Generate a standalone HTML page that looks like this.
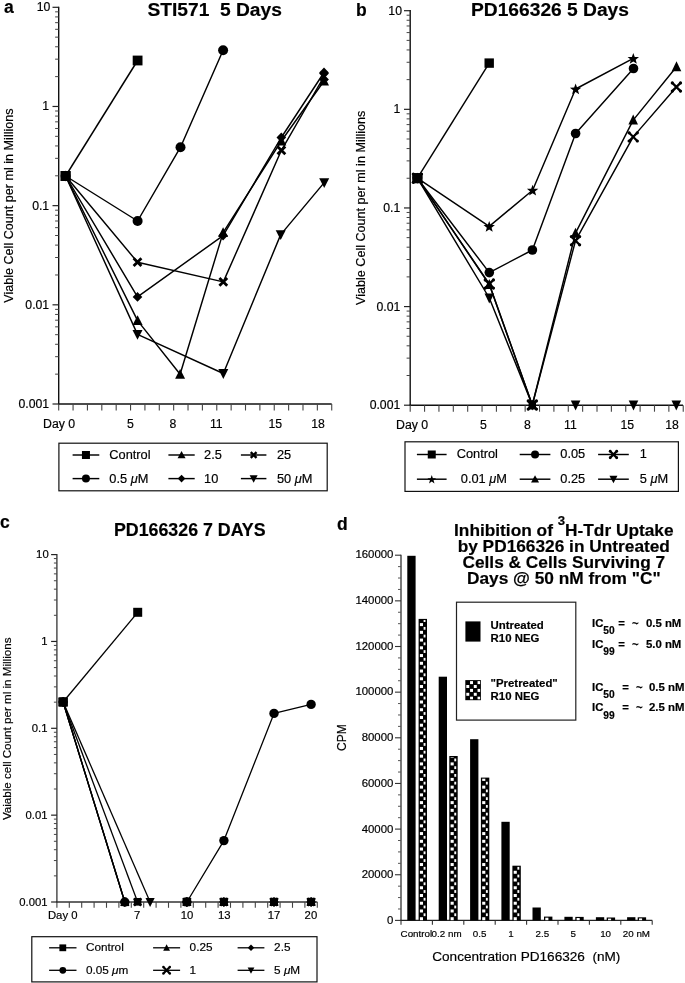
<!DOCTYPE html>
<html><head><meta charset="utf-8"><style>
html,body{margin:0;padding:0;background:#fff;overflow:hidden;}
svg{display:block;will-change:transform;}
text{font-family:"Liberation Sans",sans-serif;fill:#000;stroke:#000;stroke-width:0.18px;}
</style></head><body>
<svg width="685" height="983" viewBox="0 0 685 983" font-family="Liberation Sans, sans-serif">
<rect width="685" height="983" fill="#fff"/>
<line x1="58.70" y1="6.70" x2="58.70" y2="404.70" stroke="#111" stroke-width="1.4"/><line x1="58.00" y1="404.00" x2="331.70" y2="404.00" stroke="#111" stroke-width="1.4"/><line x1="52.50" y1="7.30" x2="58.70" y2="7.30" stroke="#222" stroke-width="1.2"/><text x="50.40" y="11.23" font-size="12.25" text-anchor="end" >10</text><line x1="55.10" y1="76.62" x2="58.70" y2="76.62" stroke="#444" stroke-width="1"/><line x1="55.10" y1="59.16" x2="58.70" y2="59.16" stroke="#444" stroke-width="1"/><line x1="55.10" y1="46.77" x2="58.70" y2="46.77" stroke="#444" stroke-width="1"/><line x1="55.10" y1="37.15" x2="58.70" y2="37.15" stroke="#444" stroke-width="1"/><line x1="55.10" y1="29.30" x2="58.70" y2="29.30" stroke="#444" stroke-width="1"/><line x1="55.10" y1="22.66" x2="58.70" y2="22.66" stroke="#444" stroke-width="1"/><line x1="55.10" y1="16.91" x2="58.70" y2="16.91" stroke="#444" stroke-width="1"/><line x1="55.10" y1="11.84" x2="58.70" y2="11.84" stroke="#444" stroke-width="1"/><line x1="52.50" y1="106.47" x2="58.70" y2="106.47" stroke="#222" stroke-width="1.2"/><text x="49.20" y="110.40" font-size="12.25" text-anchor="end" >1</text><line x1="55.10" y1="175.80" x2="58.70" y2="175.80" stroke="#444" stroke-width="1"/><line x1="55.10" y1="158.33" x2="58.70" y2="158.33" stroke="#444" stroke-width="1"/><line x1="55.10" y1="145.94" x2="58.70" y2="145.94" stroke="#444" stroke-width="1"/><line x1="55.10" y1="136.33" x2="58.70" y2="136.33" stroke="#444" stroke-width="1"/><line x1="55.10" y1="128.48" x2="58.70" y2="128.48" stroke="#444" stroke-width="1"/><line x1="55.10" y1="121.84" x2="58.70" y2="121.84" stroke="#444" stroke-width="1"/><line x1="55.10" y1="116.09" x2="58.70" y2="116.09" stroke="#444" stroke-width="1"/><line x1="55.10" y1="111.01" x2="58.70" y2="111.01" stroke="#444" stroke-width="1"/><line x1="52.50" y1="205.65" x2="58.70" y2="205.65" stroke="#222" stroke-width="1.2"/><text x="49.20" y="209.58" font-size="12.25" text-anchor="end" >0.1</text><line x1="55.10" y1="274.97" x2="58.70" y2="274.97" stroke="#444" stroke-width="1"/><line x1="55.10" y1="257.51" x2="58.70" y2="257.51" stroke="#444" stroke-width="1"/><line x1="55.10" y1="245.12" x2="58.70" y2="245.12" stroke="#444" stroke-width="1"/><line x1="55.10" y1="235.50" x2="58.70" y2="235.50" stroke="#444" stroke-width="1"/><line x1="55.10" y1="227.65" x2="58.70" y2="227.65" stroke="#444" stroke-width="1"/><line x1="55.10" y1="221.01" x2="58.70" y2="221.01" stroke="#444" stroke-width="1"/><line x1="55.10" y1="215.26" x2="58.70" y2="215.26" stroke="#444" stroke-width="1"/><line x1="55.10" y1="210.19" x2="58.70" y2="210.19" stroke="#444" stroke-width="1"/><line x1="52.50" y1="304.82" x2="58.70" y2="304.82" stroke="#222" stroke-width="1.2"/><text x="49.20" y="308.75" font-size="12.25" text-anchor="end" >0.01</text><line x1="55.10" y1="374.15" x2="58.70" y2="374.15" stroke="#444" stroke-width="1"/><line x1="55.10" y1="356.68" x2="58.70" y2="356.68" stroke="#444" stroke-width="1"/><line x1="55.10" y1="344.29" x2="58.70" y2="344.29" stroke="#444" stroke-width="1"/><line x1="55.10" y1="334.68" x2="58.70" y2="334.68" stroke="#444" stroke-width="1"/><line x1="55.10" y1="326.83" x2="58.70" y2="326.83" stroke="#444" stroke-width="1"/><line x1="55.10" y1="320.19" x2="58.70" y2="320.19" stroke="#444" stroke-width="1"/><line x1="55.10" y1="314.44" x2="58.70" y2="314.44" stroke="#444" stroke-width="1"/><line x1="55.10" y1="309.36" x2="58.70" y2="309.36" stroke="#444" stroke-width="1"/><line x1="52.50" y1="404.00" x2="58.70" y2="404.00" stroke="#222" stroke-width="1.2"/><text x="49.20" y="407.93" font-size="12.25" text-anchor="end" >0.001</text><line x1="58.70" y1="404.00" x2="58.70" y2="410.50" stroke="#444" stroke-width="1.1"/><line x1="73.07" y1="404.00" x2="73.07" y2="410.50" stroke="#444" stroke-width="1.1"/><line x1="87.44" y1="404.00" x2="87.44" y2="410.50" stroke="#444" stroke-width="1.1"/><line x1="101.81" y1="404.00" x2="101.81" y2="410.50" stroke="#444" stroke-width="1.1"/><line x1="116.18" y1="404.00" x2="116.18" y2="410.50" stroke="#444" stroke-width="1.1"/><line x1="130.55" y1="404.00" x2="130.55" y2="410.50" stroke="#444" stroke-width="1.1"/><line x1="144.92" y1="404.00" x2="144.92" y2="410.50" stroke="#444" stroke-width="1.1"/><line x1="159.29" y1="404.00" x2="159.29" y2="410.50" stroke="#444" stroke-width="1.1"/><line x1="173.66" y1="404.00" x2="173.66" y2="410.50" stroke="#444" stroke-width="1.1"/><line x1="188.03" y1="404.00" x2="188.03" y2="410.50" stroke="#444" stroke-width="1.1"/><line x1="202.40" y1="404.00" x2="202.40" y2="410.50" stroke="#444" stroke-width="1.1"/><line x1="216.77" y1="404.00" x2="216.77" y2="410.50" stroke="#444" stroke-width="1.1"/><line x1="231.14" y1="404.00" x2="231.14" y2="410.50" stroke="#444" stroke-width="1.1"/><line x1="245.51" y1="404.00" x2="245.51" y2="410.50" stroke="#444" stroke-width="1.1"/><line x1="259.88" y1="404.00" x2="259.88" y2="410.50" stroke="#444" stroke-width="1.1"/><line x1="274.25" y1="404.00" x2="274.25" y2="410.50" stroke="#444" stroke-width="1.1"/><line x1="288.62" y1="404.00" x2="288.62" y2="410.50" stroke="#444" stroke-width="1.1"/><line x1="302.99" y1="404.00" x2="302.99" y2="410.50" stroke="#444" stroke-width="1.1"/><line x1="317.36" y1="404.00" x2="317.36" y2="410.50" stroke="#444" stroke-width="1.1"/><line x1="331.73" y1="404.00" x2="331.73" y2="410.50" stroke="#444" stroke-width="1.1"/>
<text x="4.00" y="12.80" font-size="17.5" text-anchor="start" font-weight="bold" >a</text>
<text x="214.70" y="15.90" font-size="19.2" text-anchor="middle" font-weight="bold" >STI571&#160;&#160;5 Days</text>
<text x="59.10" y="427.90" font-size="12.3" text-anchor="middle" >Day 0</text>
<text x="130.50" y="427.90" font-size="12.25" text-anchor="middle" >5</text>
<text x="172.90" y="427.90" font-size="12.25" text-anchor="middle" >8</text>
<text x="216.30" y="427.90" font-size="12.25" text-anchor="middle" >11</text>
<text x="275.20" y="427.90" font-size="12.25" text-anchor="middle" >15</text>
<text x="318.00" y="427.90" font-size="12.25" text-anchor="middle" >18</text>
<text x="0" y="0" font-size="12.6" text-anchor="middle" transform="translate(13.1 205.6) rotate(-90)">Viable Cell Count per ml in Millions</text>
<path d="M65.60 176.00 L137.60 60.50" stroke="#000" stroke-width="1.45" fill="none" stroke-linejoin="round"/><rect x="60.70" y="171.10" width="9.80" height="9.80" fill="#000"/><rect x="132.70" y="55.60" width="9.80" height="9.80" fill="#000"/>
<path d="M65.60 176.00 L137.60 221.00 L180.50 147.20 L223.10 50.20" stroke="#000" stroke-width="1.45" fill="none" stroke-linejoin="round"/><circle cx="65.60" cy="176.00" r="5.00" fill="#000"/><circle cx="137.60" cy="221.00" r="5.00" fill="#000"/><circle cx="180.50" cy="147.20" r="5.00" fill="#000"/><circle cx="223.10" cy="50.20" r="5.00" fill="#000"/>
<path d="M65.60 176.00 L137.60 320.60 L180.10 374.30 L223.10 232.60 L281.30 141.00 L324.00 81.00" stroke="#000" stroke-width="1.45" fill="none" stroke-linejoin="round"/><path d="M65.60 170.61 L70.60 180.41 L60.60 180.41Z" fill="#000"/><path d="M137.60 315.21 L142.60 325.01 L132.60 325.01Z" fill="#000"/><path d="M180.10 368.91 L185.10 378.71 L175.10 378.71Z" fill="#000"/><path d="M223.10 227.21 L228.10 237.01 L218.10 237.01Z" fill="#000"/><path d="M281.30 135.61 L286.30 145.41 L276.30 145.41Z" fill="#000"/><path d="M324.00 75.61 L329.00 85.41 L319.00 85.41Z" fill="#000"/>
<path d="M65.60 176.00 L137.50 334.40 L223.30 373.50 L280.70 234.60 L324.20 182.60" stroke="#000" stroke-width="1.45" fill="none" stroke-linejoin="round"/><path d="M65.60 181.39 L70.60 171.59 L60.60 171.59Z" fill="#000"/><path d="M137.50 339.79 L142.50 329.99 L132.50 329.99Z" fill="#000"/><path d="M223.30 378.89 L228.30 369.09 L218.30 369.09Z" fill="#000"/><path d="M280.70 239.99 L285.70 230.19 L275.70 230.19Z" fill="#000"/><path d="M324.20 187.99 L329.20 178.19 L319.20 178.19Z" fill="#000"/>
<path d="M65.60 176.00 L137.50 262.20 L223.30 281.90 L281.40 150.30 L324.00 76.50" stroke="#000" stroke-width="1.45" fill="none" stroke-linejoin="round"/><path d="M61.70 172.10 L69.50 179.90 M69.50 172.10 L61.70 179.90" stroke="#000" stroke-width="2.8" stroke-linecap="butt" fill="none"/><path d="M133.60 258.30 L141.40 266.10 M141.40 258.30 L133.60 266.10" stroke="#000" stroke-width="2.8" stroke-linecap="butt" fill="none"/><path d="M219.40 278.00 L227.20 285.80 M227.20 278.00 L219.40 285.80" stroke="#000" stroke-width="2.8" stroke-linecap="butt" fill="none"/><path d="M277.50 146.40 L285.30 154.20 M285.30 146.40 L277.50 154.20" stroke="#000" stroke-width="2.8" stroke-linecap="butt" fill="none"/><path d="M320.10 72.60 L327.90 80.40 M327.90 72.60 L320.10 80.40" stroke="#000" stroke-width="2.8" stroke-linecap="butt" fill="none"/>
<path d="M65.60 176.00 L137.50 296.90 L223.10 235.60 L281.30 137.50 L324.00 72.50" stroke="#000" stroke-width="1.45" fill="none" stroke-linejoin="round"/><path d="M65.60 171.10 L70.40 176.00 L65.60 180.90 L60.80 176.00Z" fill="#000"/><path d="M137.50 292.00 L142.30 296.90 L137.50 301.80 L132.70 296.90Z" fill="#000"/><path d="M223.10 230.70 L227.90 235.60 L223.10 240.50 L218.30 235.60Z" fill="#000"/><path d="M281.30 132.60 L286.10 137.50 L281.30 142.40 L276.50 137.50Z" fill="#000"/><path d="M324.00 67.60 L328.80 72.50 L324.00 77.40 L319.20 72.50Z" fill="#000"/>
<rect x="60.70" y="171.10" width="9.80" height="9.80" fill="#000"/>
<rect x="58.9" y="443.2" width="268.3" height="47.6" fill="none" stroke="#111" stroke-width="1.2"/>
<line x1="72.60" y1="455.00" x2="99.30" y2="455.00" stroke="#000" stroke-width="1.45"/><rect x="81.95" y="451.00" width="8.00" height="8.00" fill="#000"/><text x="109.30" y="458.97" font-size="12.8" text-anchor="start" >Control</text>
<line x1="72.60" y1="478.60" x2="99.30" y2="478.60" stroke="#000" stroke-width="1.45"/><circle cx="85.95" cy="478.60" r="4.00" fill="#000"/><text x="109.30" y="482.57" font-size="12.8" text-anchor="start" >0.5 <tspan font-style="italic">&#956;</tspan>M</text>
<line x1="168.40" y1="455.00" x2="194.70" y2="455.00" stroke="#000" stroke-width="1.45"/><path d="M181.55 450.93 L185.55 458.33 L177.55 458.33Z" fill="#000"/><text x="204.10" y="458.97" font-size="12.8" text-anchor="start" >2.5</text>
<line x1="168.40" y1="478.60" x2="194.70" y2="478.60" stroke="#000" stroke-width="1.45"/><path d="M181.55 474.80 L185.35 478.60 L181.55 482.40 L177.75 478.60Z" fill="#000"/><text x="204.10" y="482.57" font-size="12.8" text-anchor="start" >10</text>
<line x1="240.90" y1="455.00" x2="266.40" y2="455.00" stroke="#000" stroke-width="1.45"/><path d="M250.75 452.11 L256.54 457.89 M256.54 452.11 L250.75 457.89" stroke="#000" stroke-width="2.3" stroke-linecap="butt" fill="none"/><text x="276.90" y="458.97" font-size="12.8" text-anchor="start" >25</text>
<line x1="240.90" y1="478.60" x2="266.40" y2="478.60" stroke="#000" stroke-width="1.45"/><path d="M253.65 482.67 L257.65 475.27 L249.65 475.27Z" fill="#000"/><text x="276.90" y="482.57" font-size="12.8" text-anchor="start" >50 <tspan font-style="italic">&#956;</tspan>M</text>
<line x1="410.20" y1="10.10" x2="410.20" y2="405.90" stroke="#111" stroke-width="1.4"/><line x1="409.50" y1="405.20" x2="683.00" y2="405.20" stroke="#111" stroke-width="1.4"/><line x1="404.00" y1="10.70" x2="410.20" y2="10.70" stroke="#222" stroke-width="1.2"/><text x="402.00" y="14.63" font-size="12.25" text-anchor="end" >10</text><line x1="406.60" y1="79.64" x2="410.20" y2="79.64" stroke="#444" stroke-width="1"/><line x1="406.60" y1="62.27" x2="410.20" y2="62.27" stroke="#444" stroke-width="1"/><line x1="406.60" y1="49.95" x2="410.20" y2="49.95" stroke="#444" stroke-width="1"/><line x1="406.60" y1="40.39" x2="410.20" y2="40.39" stroke="#444" stroke-width="1"/><line x1="406.60" y1="32.58" x2="410.20" y2="32.58" stroke="#444" stroke-width="1"/><line x1="406.60" y1="25.98" x2="410.20" y2="25.98" stroke="#444" stroke-width="1"/><line x1="406.60" y1="20.26" x2="410.20" y2="20.26" stroke="#444" stroke-width="1"/><line x1="406.60" y1="15.21" x2="410.20" y2="15.21" stroke="#444" stroke-width="1"/><line x1="404.00" y1="109.33" x2="410.20" y2="109.33" stroke="#222" stroke-width="1.2"/><text x="400.30" y="113.25" font-size="12.25" text-anchor="end" >1</text><line x1="406.60" y1="178.26" x2="410.20" y2="178.26" stroke="#444" stroke-width="1"/><line x1="406.60" y1="160.89" x2="410.20" y2="160.89" stroke="#444" stroke-width="1"/><line x1="406.60" y1="148.57" x2="410.20" y2="148.57" stroke="#444" stroke-width="1"/><line x1="406.60" y1="139.01" x2="410.20" y2="139.01" stroke="#444" stroke-width="1"/><line x1="406.60" y1="131.20" x2="410.20" y2="131.20" stroke="#444" stroke-width="1"/><line x1="406.60" y1="124.60" x2="410.20" y2="124.60" stroke="#444" stroke-width="1"/><line x1="406.60" y1="118.88" x2="410.20" y2="118.88" stroke="#444" stroke-width="1"/><line x1="406.60" y1="113.84" x2="410.20" y2="113.84" stroke="#444" stroke-width="1"/><line x1="404.00" y1="207.95" x2="410.20" y2="207.95" stroke="#222" stroke-width="1.2"/><text x="400.30" y="211.88" font-size="12.25" text-anchor="end" >0.1</text><line x1="406.60" y1="276.89" x2="410.20" y2="276.89" stroke="#444" stroke-width="1"/><line x1="406.60" y1="259.52" x2="410.20" y2="259.52" stroke="#444" stroke-width="1"/><line x1="406.60" y1="247.20" x2="410.20" y2="247.20" stroke="#444" stroke-width="1"/><line x1="406.60" y1="237.64" x2="410.20" y2="237.64" stroke="#444" stroke-width="1"/><line x1="406.60" y1="229.83" x2="410.20" y2="229.83" stroke="#444" stroke-width="1"/><line x1="406.60" y1="223.23" x2="410.20" y2="223.23" stroke="#444" stroke-width="1"/><line x1="406.60" y1="217.51" x2="410.20" y2="217.51" stroke="#444" stroke-width="1"/><line x1="406.60" y1="212.46" x2="410.20" y2="212.46" stroke="#444" stroke-width="1"/><line x1="404.00" y1="306.57" x2="410.20" y2="306.57" stroke="#222" stroke-width="1.2"/><text x="400.30" y="310.50" font-size="12.25" text-anchor="end" >0.01</text><line x1="406.60" y1="375.51" x2="410.20" y2="375.51" stroke="#444" stroke-width="1"/><line x1="406.60" y1="358.14" x2="410.20" y2="358.14" stroke="#444" stroke-width="1"/><line x1="406.60" y1="345.82" x2="410.20" y2="345.82" stroke="#444" stroke-width="1"/><line x1="406.60" y1="336.26" x2="410.20" y2="336.26" stroke="#444" stroke-width="1"/><line x1="406.60" y1="328.45" x2="410.20" y2="328.45" stroke="#444" stroke-width="1"/><line x1="406.60" y1="321.85" x2="410.20" y2="321.85" stroke="#444" stroke-width="1"/><line x1="406.60" y1="316.13" x2="410.20" y2="316.13" stroke="#444" stroke-width="1"/><line x1="406.60" y1="311.09" x2="410.20" y2="311.09" stroke="#444" stroke-width="1"/><line x1="404.00" y1="405.20" x2="410.20" y2="405.20" stroke="#222" stroke-width="1.2"/><text x="400.30" y="409.13" font-size="12.25" text-anchor="end" >0.001</text><line x1="410.20" y1="405.20" x2="410.20" y2="411.70" stroke="#444" stroke-width="1.1"/><line x1="424.57" y1="405.20" x2="424.57" y2="411.70" stroke="#444" stroke-width="1.1"/><line x1="438.94" y1="405.20" x2="438.94" y2="411.70" stroke="#444" stroke-width="1.1"/><line x1="453.31" y1="405.20" x2="453.31" y2="411.70" stroke="#444" stroke-width="1.1"/><line x1="467.68" y1="405.20" x2="467.68" y2="411.70" stroke="#444" stroke-width="1.1"/><line x1="482.05" y1="405.20" x2="482.05" y2="411.70" stroke="#444" stroke-width="1.1"/><line x1="496.42" y1="405.20" x2="496.42" y2="411.70" stroke="#444" stroke-width="1.1"/><line x1="510.79" y1="405.20" x2="510.79" y2="411.70" stroke="#444" stroke-width="1.1"/><line x1="525.16" y1="405.20" x2="525.16" y2="411.70" stroke="#444" stroke-width="1.1"/><line x1="539.53" y1="405.20" x2="539.53" y2="411.70" stroke="#444" stroke-width="1.1"/><line x1="553.90" y1="405.20" x2="553.90" y2="411.70" stroke="#444" stroke-width="1.1"/><line x1="568.27" y1="405.20" x2="568.27" y2="411.70" stroke="#444" stroke-width="1.1"/><line x1="582.64" y1="405.20" x2="582.64" y2="411.70" stroke="#444" stroke-width="1.1"/><line x1="597.01" y1="405.20" x2="597.01" y2="411.70" stroke="#444" stroke-width="1.1"/><line x1="611.38" y1="405.20" x2="611.38" y2="411.70" stroke="#444" stroke-width="1.1"/><line x1="625.75" y1="405.20" x2="625.75" y2="411.70" stroke="#444" stroke-width="1.1"/><line x1="640.12" y1="405.20" x2="640.12" y2="411.70" stroke="#444" stroke-width="1.1"/><line x1="654.49" y1="405.20" x2="654.49" y2="411.70" stroke="#444" stroke-width="1.1"/><line x1="668.86" y1="405.20" x2="668.86" y2="411.70" stroke="#444" stroke-width="1.1"/><line x1="683.23" y1="405.20" x2="683.23" y2="411.70" stroke="#444" stroke-width="1.1"/>
<text x="356.10" y="15.60" font-size="17.5" text-anchor="start" font-weight="bold" >b</text>
<text x="550.00" y="15.80" font-size="19.2" text-anchor="middle" font-weight="bold" >PD166326 5 Days</text>
<text x="412.10" y="428.80" font-size="12.3" text-anchor="middle" >Day 0</text>
<text x="483.50" y="428.90" font-size="12.25" text-anchor="middle" >5</text>
<text x="527.30" y="428.90" font-size="12.25" text-anchor="middle" >8</text>
<text x="570.40" y="428.90" font-size="12.25" text-anchor="middle" >11</text>
<text x="627.20" y="428.90" font-size="12.25" text-anchor="middle" >15</text>
<text x="672.00" y="428.90" font-size="12.25" text-anchor="middle" >18</text>
<text x="0" y="0" font-size="12.6" text-anchor="middle" transform="translate(365.0 207.8) rotate(-90)">Viable Cell Count per ml in Millions</text>
<path d="M417.40 178.20 L489.20 63.10" stroke="#000" stroke-width="1.45" fill="none" stroke-linejoin="round"/><rect x="412.70" y="173.50" width="9.40" height="9.40" fill="#000"/><rect x="484.50" y="58.40" width="9.40" height="9.40" fill="#000"/>
<path d="M417.40 178.20 L489.30 298.00 L532.30 405.00 M575.60 405.00 M633.50 405.00 M676.30 405.00" stroke="#000" stroke-width="1.45" fill="none" stroke-linejoin="round"/><path d="M417.40 183.70 L422.20 173.70 L412.60 173.70Z" fill="#000"/><path d="M489.30 303.50 L494.10 293.50 L484.50 293.50Z" fill="#000"/><path d="M532.30 410.50 L537.10 400.50 L527.50 400.50Z" fill="#000"/><path d="M575.60 410.50 L580.40 400.50 L570.80 400.50Z" fill="#000"/><path d="M633.50 410.50 L638.30 400.50 L628.70 400.50Z" fill="#000"/><path d="M676.30 410.50 L681.10 400.50 L671.50 400.50Z" fill="#000"/>
<path d="M417.40 178.20 L489.30 284.60 L532.30 405.00 L575.50 233.20 L633.20 120.10 L676.50 66.80" stroke="#000" stroke-width="1.45" fill="none" stroke-linejoin="round"/><path d="M417.40 172.70 L422.20 182.70 L412.60 182.70Z" fill="#000"/><path d="M489.30 279.10 L494.10 289.10 L484.50 289.10Z" fill="#000"/><path d="M532.30 399.50 L537.10 409.50 L527.50 409.50Z" fill="#000"/><path d="M575.50 227.70 L580.30 237.70 L570.70 237.70Z" fill="#000"/><path d="M633.20 114.60 L638.00 124.60 L628.40 124.60Z" fill="#000"/><path d="M676.50 61.30 L681.30 71.30 L671.70 71.30Z" fill="#000"/>
<path d="M417.40 178.20 L489.30 284.00 L532.30 405.00 L575.50 240.70 L633.20 136.90 L676.40 87.00" stroke="#000" stroke-width="1.45" fill="none" stroke-linejoin="round"/><path d="M413.30 174.10 L421.50 182.30 M421.50 174.10 L413.30 182.30" stroke="#000" stroke-width="2.3" stroke-linecap="round" fill="none"/><circle cx="413.30" cy="174.10" r="1.60" fill="#000"/><circle cx="421.50" cy="174.10" r="1.60" fill="#000"/><circle cx="421.50" cy="182.30" r="1.60" fill="#000"/><circle cx="413.30" cy="182.30" r="1.60" fill="#000"/><path d="M485.20 279.90 L493.40 288.10 M493.40 279.90 L485.20 288.10" stroke="#000" stroke-width="2.3" stroke-linecap="round" fill="none"/><circle cx="485.20" cy="279.90" r="1.60" fill="#000"/><circle cx="493.40" cy="279.90" r="1.60" fill="#000"/><circle cx="493.40" cy="288.10" r="1.60" fill="#000"/><circle cx="485.20" cy="288.10" r="1.60" fill="#000"/><path d="M528.20 400.90 L536.40 409.10 M536.40 400.90 L528.20 409.10" stroke="#000" stroke-width="2.3" stroke-linecap="round" fill="none"/><circle cx="528.20" cy="400.90" r="1.60" fill="#000"/><circle cx="536.40" cy="400.90" r="1.60" fill="#000"/><circle cx="536.40" cy="409.10" r="1.60" fill="#000"/><circle cx="528.20" cy="409.10" r="1.60" fill="#000"/><path d="M571.40 236.60 L579.60 244.80 M579.60 236.60 L571.40 244.80" stroke="#000" stroke-width="2.3" stroke-linecap="round" fill="none"/><circle cx="571.40" cy="236.60" r="1.60" fill="#000"/><circle cx="579.60" cy="236.60" r="1.60" fill="#000"/><circle cx="579.60" cy="244.80" r="1.60" fill="#000"/><circle cx="571.40" cy="244.80" r="1.60" fill="#000"/><path d="M629.10 132.80 L637.30 141.00 M637.30 132.80 L629.10 141.00" stroke="#000" stroke-width="2.3" stroke-linecap="round" fill="none"/><circle cx="629.10" cy="132.80" r="1.60" fill="#000"/><circle cx="637.30" cy="132.80" r="1.60" fill="#000"/><circle cx="637.30" cy="141.00" r="1.60" fill="#000"/><circle cx="629.10" cy="141.00" r="1.60" fill="#000"/><path d="M672.30 82.90 L680.50 91.10 M680.50 82.90 L672.30 91.10" stroke="#000" stroke-width="2.3" stroke-linecap="round" fill="none"/><circle cx="672.30" cy="82.90" r="1.60" fill="#000"/><circle cx="680.50" cy="82.90" r="1.60" fill="#000"/><circle cx="680.50" cy="91.10" r="1.60" fill="#000"/><circle cx="672.30" cy="91.10" r="1.60" fill="#000"/>
<path d="M417.40 178.20 L489.30 272.60 L532.40 250.00 L575.60 133.50 L633.50 68.50" stroke="#000" stroke-width="1.45" fill="none" stroke-linejoin="round"/><circle cx="417.40" cy="178.20" r="4.80" fill="#000"/><circle cx="489.30" cy="272.60" r="4.80" fill="#000"/><circle cx="532.40" cy="250.00" r="4.80" fill="#000"/><circle cx="575.60" cy="133.50" r="4.80" fill="#000"/><circle cx="633.50" cy="68.50" r="4.80" fill="#000"/>
<path d="M417.40 178.20 L489.20 226.40 L532.60 190.20 L575.60 89.00 L633.30 58.40" stroke="#000" stroke-width="1.45" fill="none" stroke-linejoin="round"/><polygon points="417.40,172.70 418.87,176.68 423.11,176.85 419.78,179.47 420.93,183.55 417.40,181.20 413.87,183.55 415.02,179.47 411.69,176.85 415.93,176.68" fill="#000"/><polygon points="489.20,220.90 490.67,224.88 494.91,225.05 491.58,227.67 492.73,231.75 489.20,229.40 485.67,231.75 486.82,227.67 483.49,225.05 487.73,224.88" fill="#000"/><polygon points="532.60,184.70 534.07,188.68 538.31,188.85 534.98,191.47 536.13,195.55 532.60,193.20 529.07,195.55 530.22,191.47 526.89,188.85 531.13,188.68" fill="#000"/><polygon points="575.60,83.50 577.07,87.48 581.31,87.65 577.98,90.27 579.13,94.35 575.60,92.00 572.07,94.35 573.22,90.27 569.89,87.65 574.13,87.48" fill="#000"/><polygon points="633.30,52.90 634.77,56.88 639.01,57.05 635.68,59.67 636.83,63.75 633.30,61.40 629.77,63.75 630.92,59.67 627.59,57.05 631.83,56.88" fill="#000"/>
<rect x="528.60" y="401.30" width="7.40" height="7.40" fill="#000"/>
<rect x="412.30" y="173.10" width="10.20" height="10.20" fill="#000"/>
<rect x="405.0" y="441.8" width="273.4" height="49.6" fill="none" stroke="#111" stroke-width="1.2"/>
<line x1="416.90" y1="454.50" x2="446.60" y2="454.50" stroke="#000" stroke-width="1.45"/><rect x="427.75" y="450.50" width="8.00" height="8.00" fill="#000"/><text x="456.70" y="458.47" font-size="12.8" text-anchor="start" >Control</text>
<line x1="416.90" y1="479.20" x2="446.60" y2="479.20" stroke="#000" stroke-width="1.45"/><polygon points="431.75,475.10 432.87,478.16 436.12,478.28 433.56,480.29 434.45,483.42 431.75,481.60 429.05,483.42 429.94,480.29 427.38,478.28 430.63,478.16" fill="#000"/><text x="460.80" y="483.17" font-size="12.8" text-anchor="start" >0.01 <tspan font-style="italic">&#956;</tspan>M</text>
<line x1="519.70" y1="454.50" x2="550.40" y2="454.50" stroke="#000" stroke-width="1.45"/><circle cx="535.05" cy="454.50" r="4.00" fill="#000"/><text x="560.30" y="458.47" font-size="12.8" text-anchor="start" >0.05</text>
<line x1="519.70" y1="479.20" x2="550.40" y2="479.20" stroke="#000" stroke-width="1.45"/><path d="M535.05 475.13 L539.05 482.53 L531.05 482.53Z" fill="#000"/><text x="560.30" y="483.17" font-size="12.8" text-anchor="start" >0.25</text>
<line x1="598.10" y1="454.50" x2="628.80" y2="454.50" stroke="#000" stroke-width="1.45"/><path d="M610.19 451.24 L616.71 457.76 M616.71 451.24 L610.19 457.76" stroke="#000" stroke-width="2.4" stroke-linecap="round" fill="none"/><circle cx="610.19" cy="451.24" r="1.4" fill="#000"/><circle cx="616.71" cy="451.24" r="1.4" fill="#000"/><circle cx="616.71" cy="457.76" r="1.4" fill="#000"/><circle cx="610.19" cy="457.76" r="1.4" fill="#000"/><text x="639.80" y="458.47" font-size="12.8" text-anchor="start" >1</text>
<line x1="598.10" y1="479.20" x2="628.80" y2="479.20" stroke="#000" stroke-width="1.45"/><path d="M613.45 483.27 L617.45 475.87 L609.45 475.87Z" fill="#000"/><text x="639.80" y="483.17" font-size="12.8" text-anchor="start" >5 <tspan font-style="italic">&#956;</tspan>M</text>
<line x1="56.90" y1="554.00" x2="56.90" y2="902.70" stroke="#333" stroke-width="1.3"/><line x1="56.20" y1="902.00" x2="317.30" y2="902.00" stroke="#333" stroke-width="1.3"/><line x1="51.10" y1="554.60" x2="56.90" y2="554.60" stroke="#222" stroke-width="1.2"/><text x="48.70" y="558.20" font-size="11.3" text-anchor="end" >10</text><line x1="53.90" y1="615.31" x2="56.90" y2="615.31" stroke="#444" stroke-width="1"/><line x1="53.90" y1="600.01" x2="56.90" y2="600.01" stroke="#444" stroke-width="1"/><line x1="53.90" y1="589.16" x2="56.90" y2="589.16" stroke="#444" stroke-width="1"/><line x1="53.90" y1="580.74" x2="56.90" y2="580.74" stroke="#444" stroke-width="1"/><line x1="53.90" y1="573.87" x2="56.90" y2="573.87" stroke="#444" stroke-width="1"/><line x1="53.90" y1="568.05" x2="56.90" y2="568.05" stroke="#444" stroke-width="1"/><line x1="53.90" y1="563.02" x2="56.90" y2="563.02" stroke="#444" stroke-width="1"/><line x1="53.90" y1="558.57" x2="56.90" y2="558.57" stroke="#444" stroke-width="1"/><line x1="51.10" y1="641.45" x2="56.90" y2="641.45" stroke="#222" stroke-width="1.2"/><text x="47.50" y="645.05" font-size="11.3" text-anchor="end" >1</text><line x1="53.90" y1="702.16" x2="56.90" y2="702.16" stroke="#444" stroke-width="1"/><line x1="53.90" y1="686.86" x2="56.90" y2="686.86" stroke="#444" stroke-width="1"/><line x1="53.90" y1="676.01" x2="56.90" y2="676.01" stroke="#444" stroke-width="1"/><line x1="53.90" y1="667.59" x2="56.90" y2="667.59" stroke="#444" stroke-width="1"/><line x1="53.90" y1="660.72" x2="56.90" y2="660.72" stroke="#444" stroke-width="1"/><line x1="53.90" y1="654.90" x2="56.90" y2="654.90" stroke="#444" stroke-width="1"/><line x1="53.90" y1="649.87" x2="56.90" y2="649.87" stroke="#444" stroke-width="1"/><line x1="53.90" y1="645.42" x2="56.90" y2="645.42" stroke="#444" stroke-width="1"/><line x1="51.10" y1="728.30" x2="56.90" y2="728.30" stroke="#222" stroke-width="1.2"/><text x="47.50" y="731.90" font-size="11.3" text-anchor="end" >0.1</text><line x1="53.90" y1="789.01" x2="56.90" y2="789.01" stroke="#444" stroke-width="1"/><line x1="53.90" y1="773.71" x2="56.90" y2="773.71" stroke="#444" stroke-width="1"/><line x1="53.90" y1="762.86" x2="56.90" y2="762.86" stroke="#444" stroke-width="1"/><line x1="53.90" y1="754.44" x2="56.90" y2="754.44" stroke="#444" stroke-width="1"/><line x1="53.90" y1="747.57" x2="56.90" y2="747.57" stroke="#444" stroke-width="1"/><line x1="53.90" y1="741.75" x2="56.90" y2="741.75" stroke="#444" stroke-width="1"/><line x1="53.90" y1="736.72" x2="56.90" y2="736.72" stroke="#444" stroke-width="1"/><line x1="53.90" y1="732.27" x2="56.90" y2="732.27" stroke="#444" stroke-width="1"/><line x1="51.10" y1="815.15" x2="56.90" y2="815.15" stroke="#222" stroke-width="1.2"/><text x="47.50" y="818.75" font-size="11.3" text-anchor="end" >0.01</text><line x1="53.90" y1="875.86" x2="56.90" y2="875.86" stroke="#444" stroke-width="1"/><line x1="53.90" y1="860.56" x2="56.90" y2="860.56" stroke="#444" stroke-width="1"/><line x1="53.90" y1="849.71" x2="56.90" y2="849.71" stroke="#444" stroke-width="1"/><line x1="53.90" y1="841.29" x2="56.90" y2="841.29" stroke="#444" stroke-width="1"/><line x1="53.90" y1="834.42" x2="56.90" y2="834.42" stroke="#444" stroke-width="1"/><line x1="53.90" y1="828.60" x2="56.90" y2="828.60" stroke="#444" stroke-width="1"/><line x1="53.90" y1="823.57" x2="56.90" y2="823.57" stroke="#444" stroke-width="1"/><line x1="53.90" y1="819.12" x2="56.90" y2="819.12" stroke="#444" stroke-width="1"/><line x1="51.10" y1="902.00" x2="56.90" y2="902.00" stroke="#222" stroke-width="1.2"/><text x="47.50" y="905.60" font-size="11.3" text-anchor="end" >0.001</text><line x1="56.90" y1="902.00" x2="56.90" y2="907.80" stroke="#444" stroke-width="1.1"/><line x1="69.30" y1="902.00" x2="69.30" y2="907.80" stroke="#444" stroke-width="1.1"/><line x1="81.70" y1="902.00" x2="81.70" y2="907.80" stroke="#444" stroke-width="1.1"/><line x1="94.10" y1="902.00" x2="94.10" y2="907.80" stroke="#444" stroke-width="1.1"/><line x1="106.50" y1="902.00" x2="106.50" y2="907.80" stroke="#444" stroke-width="1.1"/><line x1="118.90" y1="902.00" x2="118.90" y2="907.80" stroke="#444" stroke-width="1.1"/><line x1="131.30" y1="902.00" x2="131.30" y2="907.80" stroke="#444" stroke-width="1.1"/><line x1="143.70" y1="902.00" x2="143.70" y2="907.80" stroke="#444" stroke-width="1.1"/><line x1="156.10" y1="902.00" x2="156.10" y2="907.80" stroke="#444" stroke-width="1.1"/><line x1="168.50" y1="902.00" x2="168.50" y2="907.80" stroke="#444" stroke-width="1.1"/><line x1="180.90" y1="902.00" x2="180.90" y2="907.80" stroke="#444" stroke-width="1.1"/><line x1="193.30" y1="902.00" x2="193.30" y2="907.80" stroke="#444" stroke-width="1.1"/><line x1="205.70" y1="902.00" x2="205.70" y2="907.80" stroke="#444" stroke-width="1.1"/><line x1="218.10" y1="902.00" x2="218.10" y2="907.80" stroke="#444" stroke-width="1.1"/><line x1="230.50" y1="902.00" x2="230.50" y2="907.80" stroke="#444" stroke-width="1.1"/><line x1="242.90" y1="902.00" x2="242.90" y2="907.80" stroke="#444" stroke-width="1.1"/><line x1="255.30" y1="902.00" x2="255.30" y2="907.80" stroke="#444" stroke-width="1.1"/><line x1="267.70" y1="902.00" x2="267.70" y2="907.80" stroke="#444" stroke-width="1.1"/><line x1="280.10" y1="902.00" x2="280.10" y2="907.80" stroke="#444" stroke-width="1.1"/><line x1="292.50" y1="902.00" x2="292.50" y2="907.80" stroke="#444" stroke-width="1.1"/><line x1="304.90" y1="902.00" x2="304.90" y2="907.80" stroke="#444" stroke-width="1.1"/><line x1="317.30" y1="902.00" x2="317.30" y2="907.80" stroke="#444" stroke-width="1.1"/>
<text x="0.00" y="527.60" font-size="17.5" text-anchor="start" font-weight="bold" >c</text>
<text x="189.80" y="535.50" font-size="17.8" text-anchor="middle" font-weight="bold" >PD166326 7 DAYS</text>
<text x="62.70" y="918.80" font-size="11.3" text-anchor="middle" >Day 0</text>
<text x="137.10" y="918.80" font-size="11.3" text-anchor="middle" >7</text>
<text x="187.00" y="918.80" font-size="11.3" text-anchor="middle" >10</text>
<text x="224.20" y="918.80" font-size="11.3" text-anchor="middle" >13</text>
<text x="274.10" y="918.80" font-size="11.3" text-anchor="middle" >17</text>
<text x="310.90" y="918.80" font-size="11.3" text-anchor="middle" >20</text>
<text x="0" y="0" font-size="11.64" text-anchor="middle" transform="translate(11.3 728.8) rotate(-90)">Vaiable cell Count per ml in Millions</text>
<path d="M63.10 702.00 L137.70 612.30" stroke="#000" stroke-width="1.3" fill="none" stroke-linejoin="round"/><rect x="58.60" y="697.50" width="9.00" height="9.00" fill="#000"/><rect x="133.20" y="607.80" width="9.00" height="9.00" fill="#000"/>
<path d="M63.10 702.00 L150.10 902.00 M186.90 902.00 M223.90 902.00 M274.00 902.00 M311.10 902.00" stroke="#000" stroke-width="1.3" fill="none" stroke-linejoin="round"/><path d="M63.10 706.95 L67.70 697.95 L58.50 697.95Z" fill="#000"/><path d="M150.10 906.95 L154.70 897.95 L145.50 897.95Z" fill="#000"/><path d="M186.90 906.95 L191.50 897.95 L182.30 897.95Z" fill="#000"/><path d="M223.90 906.95 L228.50 897.95 L219.30 897.95Z" fill="#000"/><path d="M274.00 906.95 L278.60 897.95 L269.40 897.95Z" fill="#000"/><path d="M311.10 906.95 L315.70 897.95 L306.50 897.95Z" fill="#000"/>
<path d="M63.10 702.00 L124.80 902.00 M186.90 902.00 M223.90 902.00 M274.00 902.00 M311.10 902.00" stroke="#000" stroke-width="1.3" fill="none" stroke-linejoin="round"/><path d="M63.10 697.05 L67.70 706.05 L58.50 706.05Z" fill="#000"/><path d="M124.80 897.05 L129.40 906.05 L120.20 906.05Z" fill="#000"/><path d="M186.90 897.05 L191.50 906.05 L182.30 906.05Z" fill="#000"/><path d="M223.90 897.05 L228.50 906.05 L219.30 906.05Z" fill="#000"/><path d="M274.00 897.05 L278.60 906.05 L269.40 906.05Z" fill="#000"/><path d="M311.10 897.05 L315.70 906.05 L306.50 906.05Z" fill="#000"/>
<path d="M63.10 702.00 L124.80 902.00 M186.90 902.00 M223.90 902.00 M274.00 902.00 M311.10 902.00" stroke="#000" stroke-width="1.3" fill="none" stroke-linejoin="round"/><path d="M63.10 697.10 L67.90 702.00 L63.10 706.90 L58.30 702.00Z" fill="#000"/><path d="M124.80 897.10 L129.60 902.00 L124.80 906.90 L120.00 902.00Z" fill="#000"/><path d="M186.90 897.10 L191.70 902.00 L186.90 906.90 L182.10 902.00Z" fill="#000"/><path d="M223.90 897.10 L228.70 902.00 L223.90 906.90 L219.10 902.00Z" fill="#000"/><path d="M274.00 897.10 L278.80 902.00 L274.00 906.90 L269.20 902.00Z" fill="#000"/><path d="M311.10 897.10 L315.90 902.00 L311.10 906.90 L306.30 902.00Z" fill="#000"/>
<path d="M63.10 702.00 L137.60 902.00 M186.90 902.00 M223.90 902.00 M274.00 902.00 M311.10 902.00" stroke="#000" stroke-width="1.3" fill="none" stroke-linejoin="round"/><path d="M59.50 698.40 L66.70 705.60 M66.70 698.40 L59.50 705.60" stroke="#000" stroke-width="2.6" stroke-linecap="butt" fill="none"/><path d="M134.00 898.40 L141.20 905.60 M141.20 898.40 L134.00 905.60" stroke="#000" stroke-width="2.6" stroke-linecap="butt" fill="none"/><path d="M183.30 898.40 L190.50 905.60 M190.50 898.40 L183.30 905.60" stroke="#000" stroke-width="2.6" stroke-linecap="butt" fill="none"/><path d="M220.30 898.40 L227.50 905.60 M227.50 898.40 L220.30 905.60" stroke="#000" stroke-width="2.6" stroke-linecap="butt" fill="none"/><path d="M270.40 898.40 L277.60 905.60 M277.60 898.40 L270.40 905.60" stroke="#000" stroke-width="2.6" stroke-linecap="butt" fill="none"/><path d="M307.50 898.40 L314.70 905.60 M314.70 898.40 L307.50 905.60" stroke="#000" stroke-width="2.6" stroke-linecap="butt" fill="none"/>
<path d="M63.10 702.00 L124.80 902.00 M186.90 902.00 L223.90 840.60 L274.00 713.40 L311.10 704.40" stroke="#000" stroke-width="1.3" fill="none" stroke-linejoin="round"/><circle cx="63.10" cy="702.00" r="4.70" fill="#000"/><circle cx="124.80" cy="902.00" r="4.70" fill="#000"/><circle cx="186.90" cy="902.00" r="4.70" fill="#000"/><circle cx="223.90" cy="840.60" r="4.70" fill="#000"/><circle cx="274.00" cy="713.40" r="4.70" fill="#000"/><circle cx="311.10" cy="704.40" r="4.70" fill="#000"/>
<rect x="58.60" y="697.50" width="9.00" height="9.00" fill="#000"/>
<rect x="120.9" y="901.6" width="8.2" height="4.5" fill="#000"/>
<rect x="133.80" y="898.00" width="7.60" height="7.60" fill="#000"/>
<rect x="182.90" y="897.80" width="8.00" height="8.00" fill="#000"/>
<rect x="219.90" y="897.80" width="8.00" height="8.00" fill="#000"/>
<rect x="270.00" y="897.80" width="8.00" height="8.00" fill="#000"/>
<rect x="307.10" y="897.80" width="8.00" height="8.00" fill="#000"/>
<rect x="31.8" y="936.7" width="285.2" height="45.2" fill="none" stroke="#111" stroke-width="1.2"/>
<line x1="49.10" y1="947.80" x2="76.50" y2="947.80" stroke="#000" stroke-width="1.3"/><rect x="59.40" y="944.40" width="6.80" height="6.80" fill="#000"/><text x="85.90" y="951.44" font-size="11.75" text-anchor="start" >Control</text>
<line x1="49.10" y1="970.30" x2="76.50" y2="970.30" stroke="#000" stroke-width="1.3"/><circle cx="62.80" cy="970.30" r="3.40" fill="#000"/><text x="85.90" y="973.94" font-size="11.75" text-anchor="start" >0.05 <tspan font-style="italic">&#956;</tspan>m</text>
<line x1="153.10" y1="947.80" x2="180.10" y2="947.80" stroke="#000" stroke-width="1.3"/><path d="M166.60 944.34 L170.00 950.63 L163.20 950.63Z" fill="#000"/><text x="189.60" y="951.44" font-size="11.75" text-anchor="start" >0.25</text>
<line x1="153.10" y1="970.30" x2="180.10" y2="970.30" stroke="#000" stroke-width="1.3"/><path d="M163.37 967.07 L169.83 973.53 M169.83 967.07 L163.37 973.53" stroke="#000" stroke-width="2.2" stroke-linecap="butt" fill="none"/><circle cx="163.37" cy="967.07" r="1.2" fill="#000"/><circle cx="169.83" cy="967.07" r="1.2" fill="#000"/><circle cx="169.83" cy="973.53" r="1.2" fill="#000"/><circle cx="163.37" cy="973.53" r="1.2" fill="#000"/><text x="189.60" y="973.94" font-size="11.75" text-anchor="start" >1</text>
<line x1="237.60" y1="947.80" x2="264.40" y2="947.80" stroke="#000" stroke-width="1.3"/><path d="M251.00 944.57 L254.23 947.80 L251.00 951.03 L247.77 947.80Z" fill="#000"/><text x="274.10" y="951.44" font-size="11.75" text-anchor="start" >2.5</text>
<line x1="237.60" y1="970.30" x2="264.40" y2="970.30" stroke="#000" stroke-width="1.3"/><path d="M251.00 973.76 L254.40 967.47 L247.60 967.47Z" fill="#000"/><text x="274.10" y="973.94" font-size="11.75" text-anchor="start" >5 <tspan font-style="italic">&#956;</tspan>M</text>
<line x1="401.0" y1="554.7" x2="401.0" y2="920.9" stroke="#222" stroke-width="1.2"/>
<line x1="400.4" y1="920.4" x2="652.3" y2="920.4" stroke="#222" stroke-width="1.3"/>
<line x1="395.0" y1="920.40" x2="401.0" y2="920.40" stroke="#333" stroke-width="1.1"/>
<text x="393.40" y="924.00" font-size="11.4" text-anchor="end" >0</text>
<line x1="395.0" y1="874.75" x2="401.0" y2="874.75" stroke="#333" stroke-width="1.1"/>
<text x="393.40" y="878.27" font-size="11.4" text-anchor="end" >20000</text>
<line x1="395.0" y1="829.10" x2="401.0" y2="829.10" stroke="#333" stroke-width="1.1"/>
<text x="393.40" y="832.55" font-size="11.4" text-anchor="end" >40000</text>
<line x1="395.0" y1="783.45" x2="401.0" y2="783.45" stroke="#333" stroke-width="1.1"/>
<text x="393.40" y="786.83" font-size="11.4" text-anchor="end" >60000</text>
<line x1="395.0" y1="737.80" x2="401.0" y2="737.80" stroke="#333" stroke-width="1.1"/>
<text x="393.40" y="741.10" font-size="11.4" text-anchor="end" >80000</text>
<line x1="395.0" y1="692.15" x2="401.0" y2="692.15" stroke="#333" stroke-width="1.1"/>
<text x="393.40" y="695.38" font-size="11.4" text-anchor="end" >100000</text>
<line x1="395.0" y1="646.50" x2="401.0" y2="646.50" stroke="#333" stroke-width="1.1"/>
<text x="393.40" y="649.65" font-size="11.4" text-anchor="end" >120000</text>
<line x1="395.0" y1="600.85" x2="401.0" y2="600.85" stroke="#333" stroke-width="1.1"/>
<text x="393.40" y="603.93" font-size="11.4" text-anchor="end" >140000</text>
<line x1="395.0" y1="555.20" x2="401.0" y2="555.20" stroke="#333" stroke-width="1.1"/>
<text x="393.40" y="558.20" font-size="11.4" text-anchor="end" >160000</text>
<line x1="398.0" y1="908.99" x2="401.0" y2="908.99" stroke="#555" stroke-width="1"/>
<line x1="398.0" y1="897.57" x2="401.0" y2="897.57" stroke="#555" stroke-width="1"/>
<line x1="398.0" y1="886.16" x2="401.0" y2="886.16" stroke="#555" stroke-width="1"/>
<line x1="398.0" y1="863.34" x2="401.0" y2="863.34" stroke="#555" stroke-width="1"/>
<line x1="398.0" y1="851.92" x2="401.0" y2="851.92" stroke="#555" stroke-width="1"/>
<line x1="398.0" y1="840.51" x2="401.0" y2="840.51" stroke="#555" stroke-width="1"/>
<line x1="398.0" y1="817.69" x2="401.0" y2="817.69" stroke="#555" stroke-width="1"/>
<line x1="398.0" y1="806.27" x2="401.0" y2="806.27" stroke="#555" stroke-width="1"/>
<line x1="398.0" y1="794.86" x2="401.0" y2="794.86" stroke="#555" stroke-width="1"/>
<line x1="398.0" y1="772.04" x2="401.0" y2="772.04" stroke="#555" stroke-width="1"/>
<line x1="398.0" y1="760.62" x2="401.0" y2="760.62" stroke="#555" stroke-width="1"/>
<line x1="398.0" y1="749.21" x2="401.0" y2="749.21" stroke="#555" stroke-width="1"/>
<line x1="398.0" y1="726.39" x2="401.0" y2="726.39" stroke="#555" stroke-width="1"/>
<line x1="398.0" y1="714.98" x2="401.0" y2="714.98" stroke="#555" stroke-width="1"/>
<line x1="398.0" y1="703.56" x2="401.0" y2="703.56" stroke="#555" stroke-width="1"/>
<line x1="398.0" y1="680.74" x2="401.0" y2="680.74" stroke="#555" stroke-width="1"/>
<line x1="398.0" y1="669.33" x2="401.0" y2="669.33" stroke="#555" stroke-width="1"/>
<line x1="398.0" y1="657.91" x2="401.0" y2="657.91" stroke="#555" stroke-width="1"/>
<line x1="398.0" y1="635.09" x2="401.0" y2="635.09" stroke="#555" stroke-width="1"/>
<line x1="398.0" y1="623.68" x2="401.0" y2="623.68" stroke="#555" stroke-width="1"/>
<line x1="398.0" y1="612.26" x2="401.0" y2="612.26" stroke="#555" stroke-width="1"/>
<line x1="398.0" y1="589.44" x2="401.0" y2="589.44" stroke="#555" stroke-width="1"/>
<line x1="398.0" y1="578.03" x2="401.0" y2="578.03" stroke="#555" stroke-width="1"/>
<line x1="398.0" y1="566.61" x2="401.0" y2="566.61" stroke="#555" stroke-width="1"/>
<line x1="401.00" y1="920.4" x2="401.00" y2="924.8" stroke="#333" stroke-width="1.1"/>
<line x1="432.40" y1="920.4" x2="432.40" y2="924.8" stroke="#333" stroke-width="1.1"/>
<line x1="463.80" y1="920.4" x2="463.80" y2="924.8" stroke="#333" stroke-width="1.1"/>
<line x1="495.20" y1="920.4" x2="495.20" y2="924.8" stroke="#333" stroke-width="1.1"/>
<line x1="526.60" y1="920.4" x2="526.60" y2="924.8" stroke="#333" stroke-width="1.1"/>
<line x1="558.00" y1="920.4" x2="558.00" y2="924.8" stroke="#333" stroke-width="1.1"/>
<line x1="589.40" y1="920.4" x2="589.40" y2="924.8" stroke="#333" stroke-width="1.1"/>
<line x1="620.80" y1="920.4" x2="620.80" y2="924.8" stroke="#333" stroke-width="1.1"/>
<line x1="652.20" y1="920.4" x2="652.20" y2="924.8" stroke="#333" stroke-width="1.1"/>
<text x="400.60" y="936.60" font-size="9.8" text-anchor="start" >Control</text>
<text x="431.60" y="936.60" font-size="9.8" text-anchor="start" >0.2 nm</text>
<text x="479.60" y="936.60" font-size="9.8" text-anchor="middle" >0.5</text>
<text x="510.90" y="936.60" font-size="9.8" text-anchor="middle" >1</text>
<text x="542.30" y="936.60" font-size="9.8" text-anchor="middle" >2.5</text>
<text x="573.30" y="936.60" font-size="9.8" text-anchor="middle" >5</text>
<text x="605.60" y="936.60" font-size="9.8" text-anchor="middle" >10</text>
<text x="636.40" y="936.60" font-size="9.8" text-anchor="middle" >20 nM</text>
<rect x="407.30" y="555.80" width="8.3" height="364.60" fill="#000"/>
<rect x="418.60" y="618.90" width="8.40" height="301.50" fill="#000"/><rect x="419.90" y="623.10" width="3.10" height="3.00" fill="#fff"/><rect x="419.90" y="630.84" width="3.10" height="3.00" fill="#fff"/><rect x="419.90" y="638.58" width="3.10" height="3.00" fill="#fff"/><rect x="419.90" y="646.32" width="3.10" height="3.00" fill="#fff"/><rect x="419.90" y="654.06" width="3.10" height="3.00" fill="#fff"/><rect x="419.90" y="661.80" width="3.10" height="3.00" fill="#fff"/><rect x="419.90" y="669.54" width="3.10" height="3.00" fill="#fff"/><rect x="419.90" y="677.28" width="3.10" height="3.00" fill="#fff"/><rect x="419.90" y="685.02" width="3.10" height="3.00" fill="#fff"/><rect x="419.90" y="692.76" width="3.10" height="3.00" fill="#fff"/><rect x="419.90" y="700.50" width="3.10" height="3.00" fill="#fff"/><rect x="419.90" y="708.24" width="3.10" height="3.00" fill="#fff"/><rect x="419.90" y="715.98" width="3.10" height="3.00" fill="#fff"/><rect x="419.90" y="723.72" width="3.10" height="3.00" fill="#fff"/><rect x="419.90" y="731.46" width="3.10" height="3.00" fill="#fff"/><rect x="419.90" y="739.20" width="3.10" height="3.00" fill="#fff"/><rect x="419.90" y="746.94" width="3.10" height="3.00" fill="#fff"/><rect x="419.90" y="754.68" width="3.10" height="3.00" fill="#fff"/><rect x="419.90" y="762.42" width="3.10" height="3.00" fill="#fff"/><rect x="419.90" y="770.16" width="3.10" height="3.00" fill="#fff"/><rect x="419.90" y="777.90" width="3.10" height="3.00" fill="#fff"/><rect x="419.90" y="785.64" width="3.10" height="3.00" fill="#fff"/><rect x="419.90" y="793.38" width="3.10" height="3.00" fill="#fff"/><rect x="419.90" y="801.12" width="3.10" height="3.00" fill="#fff"/><rect x="419.90" y="808.86" width="3.10" height="3.00" fill="#fff"/><rect x="419.90" y="816.60" width="3.10" height="3.00" fill="#fff"/><rect x="419.90" y="824.34" width="3.10" height="3.00" fill="#fff"/><rect x="419.90" y="832.08" width="3.10" height="3.00" fill="#fff"/><rect x="419.90" y="839.82" width="3.10" height="3.00" fill="#fff"/><rect x="419.90" y="847.56" width="3.10" height="3.00" fill="#fff"/><rect x="419.90" y="855.30" width="3.10" height="3.00" fill="#fff"/><rect x="419.90" y="863.04" width="3.10" height="3.00" fill="#fff"/><rect x="419.90" y="870.78" width="3.10" height="3.00" fill="#fff"/><rect x="419.90" y="878.52" width="3.10" height="3.00" fill="#fff"/><rect x="419.90" y="886.26" width="3.10" height="3.00" fill="#fff"/><rect x="419.90" y="894.00" width="3.10" height="3.00" fill="#fff"/><rect x="419.90" y="901.74" width="3.10" height="3.00" fill="#fff"/><rect x="419.90" y="909.48" width="3.10" height="3.00" fill="#fff"/><rect x="419.90" y="917.22" width="3.10" height="3.00" fill="#fff"/><rect x="423.60" y="620.00" width="1.90" height="2.00" fill="#fff"/><rect x="423.60" y="626.94" width="1.90" height="2.80" fill="#fff"/><rect x="423.60" y="634.68" width="1.90" height="2.80" fill="#fff"/><rect x="423.60" y="642.42" width="1.90" height="2.80" fill="#fff"/><rect x="423.60" y="650.16" width="1.90" height="2.80" fill="#fff"/><rect x="423.60" y="657.90" width="1.90" height="2.80" fill="#fff"/><rect x="423.60" y="665.64" width="1.90" height="2.80" fill="#fff"/><rect x="423.60" y="673.38" width="1.90" height="2.80" fill="#fff"/><rect x="423.60" y="681.12" width="1.90" height="2.80" fill="#fff"/><rect x="423.60" y="688.86" width="1.90" height="2.80" fill="#fff"/><rect x="423.60" y="696.60" width="1.90" height="2.80" fill="#fff"/><rect x="423.60" y="704.34" width="1.90" height="2.80" fill="#fff"/><rect x="423.60" y="712.08" width="1.90" height="2.80" fill="#fff"/><rect x="423.60" y="719.82" width="1.90" height="2.80" fill="#fff"/><rect x="423.60" y="727.56" width="1.90" height="2.80" fill="#fff"/><rect x="423.60" y="735.30" width="1.90" height="2.80" fill="#fff"/><rect x="423.60" y="743.04" width="1.90" height="2.80" fill="#fff"/><rect x="423.60" y="750.78" width="1.90" height="2.80" fill="#fff"/><rect x="423.60" y="758.52" width="1.90" height="2.80" fill="#fff"/><rect x="423.60" y="766.26" width="1.90" height="2.80" fill="#fff"/><rect x="423.60" y="774.00" width="1.90" height="2.80" fill="#fff"/><rect x="423.60" y="781.74" width="1.90" height="2.80" fill="#fff"/><rect x="423.60" y="789.48" width="1.90" height="2.80" fill="#fff"/><rect x="423.60" y="797.22" width="1.90" height="2.80" fill="#fff"/><rect x="423.60" y="804.96" width="1.90" height="2.80" fill="#fff"/><rect x="423.60" y="812.70" width="1.90" height="2.80" fill="#fff"/><rect x="423.60" y="820.44" width="1.90" height="2.80" fill="#fff"/><rect x="423.60" y="828.18" width="1.90" height="2.80" fill="#fff"/><rect x="423.60" y="835.92" width="1.90" height="2.80" fill="#fff"/><rect x="423.60" y="843.66" width="1.90" height="2.80" fill="#fff"/><rect x="423.60" y="851.40" width="1.90" height="2.80" fill="#fff"/><rect x="423.60" y="859.14" width="1.90" height="2.80" fill="#fff"/><rect x="423.60" y="866.88" width="1.90" height="2.80" fill="#fff"/><rect x="423.60" y="874.62" width="1.90" height="2.80" fill="#fff"/><rect x="423.60" y="882.36" width="1.90" height="2.80" fill="#fff"/><rect x="423.60" y="890.10" width="1.90" height="2.80" fill="#fff"/><rect x="423.60" y="897.84" width="1.90" height="2.80" fill="#fff"/><rect x="423.60" y="905.58" width="1.90" height="2.80" fill="#fff"/><rect x="423.60" y="913.32" width="1.90" height="2.80" fill="#fff"/>
<rect x="438.70" y="676.70" width="8.3" height="243.70" fill="#000"/>
<rect x="449.30" y="756.00" width="8.40" height="164.40" fill="#000"/><rect x="450.60" y="757.10" width="3.10" height="0.58" fill="#fff"/><rect x="450.60" y="762.42" width="3.10" height="3.00" fill="#fff"/><rect x="450.60" y="770.16" width="3.10" height="3.00" fill="#fff"/><rect x="450.60" y="777.90" width="3.10" height="3.00" fill="#fff"/><rect x="450.60" y="785.64" width="3.10" height="3.00" fill="#fff"/><rect x="450.60" y="793.38" width="3.10" height="3.00" fill="#fff"/><rect x="450.60" y="801.12" width="3.10" height="3.00" fill="#fff"/><rect x="450.60" y="808.86" width="3.10" height="3.00" fill="#fff"/><rect x="450.60" y="816.60" width="3.10" height="3.00" fill="#fff"/><rect x="450.60" y="824.34" width="3.10" height="3.00" fill="#fff"/><rect x="450.60" y="832.08" width="3.10" height="3.00" fill="#fff"/><rect x="450.60" y="839.82" width="3.10" height="3.00" fill="#fff"/><rect x="450.60" y="847.56" width="3.10" height="3.00" fill="#fff"/><rect x="450.60" y="855.30" width="3.10" height="3.00" fill="#fff"/><rect x="450.60" y="863.04" width="3.10" height="3.00" fill="#fff"/><rect x="450.60" y="870.78" width="3.10" height="3.00" fill="#fff"/><rect x="450.60" y="878.52" width="3.10" height="3.00" fill="#fff"/><rect x="450.60" y="886.26" width="3.10" height="3.00" fill="#fff"/><rect x="450.60" y="894.00" width="3.10" height="3.00" fill="#fff"/><rect x="450.60" y="901.74" width="3.10" height="3.00" fill="#fff"/><rect x="450.60" y="909.48" width="3.10" height="3.00" fill="#fff"/><rect x="450.60" y="917.22" width="3.10" height="3.00" fill="#fff"/><rect x="454.30" y="758.52" width="1.90" height="2.80" fill="#fff"/><rect x="454.30" y="766.26" width="1.90" height="2.80" fill="#fff"/><rect x="454.30" y="774.00" width="1.90" height="2.80" fill="#fff"/><rect x="454.30" y="781.74" width="1.90" height="2.80" fill="#fff"/><rect x="454.30" y="789.48" width="1.90" height="2.80" fill="#fff"/><rect x="454.30" y="797.22" width="1.90" height="2.80" fill="#fff"/><rect x="454.30" y="804.96" width="1.90" height="2.80" fill="#fff"/><rect x="454.30" y="812.70" width="1.90" height="2.80" fill="#fff"/><rect x="454.30" y="820.44" width="1.90" height="2.80" fill="#fff"/><rect x="454.30" y="828.18" width="1.90" height="2.80" fill="#fff"/><rect x="454.30" y="835.92" width="1.90" height="2.80" fill="#fff"/><rect x="454.30" y="843.66" width="1.90" height="2.80" fill="#fff"/><rect x="454.30" y="851.40" width="1.90" height="2.80" fill="#fff"/><rect x="454.30" y="859.14" width="1.90" height="2.80" fill="#fff"/><rect x="454.30" y="866.88" width="1.90" height="2.80" fill="#fff"/><rect x="454.30" y="874.62" width="1.90" height="2.80" fill="#fff"/><rect x="454.30" y="882.36" width="1.90" height="2.80" fill="#fff"/><rect x="454.30" y="890.10" width="1.90" height="2.80" fill="#fff"/><rect x="454.30" y="897.84" width="1.90" height="2.80" fill="#fff"/><rect x="454.30" y="905.58" width="1.90" height="2.80" fill="#fff"/><rect x="454.30" y="913.32" width="1.90" height="2.80" fill="#fff"/>
<rect x="470.10" y="739.20" width="8.3" height="181.20" fill="#000"/>
<rect x="480.90" y="777.60" width="8.40" height="142.80" fill="#000"/><rect x="482.20" y="778.70" width="3.10" height="2.20" fill="#fff"/><rect x="482.20" y="785.64" width="3.10" height="3.00" fill="#fff"/><rect x="482.20" y="793.38" width="3.10" height="3.00" fill="#fff"/><rect x="482.20" y="801.12" width="3.10" height="3.00" fill="#fff"/><rect x="482.20" y="808.86" width="3.10" height="3.00" fill="#fff"/><rect x="482.20" y="816.60" width="3.10" height="3.00" fill="#fff"/><rect x="482.20" y="824.34" width="3.10" height="3.00" fill="#fff"/><rect x="482.20" y="832.08" width="3.10" height="3.00" fill="#fff"/><rect x="482.20" y="839.82" width="3.10" height="3.00" fill="#fff"/><rect x="482.20" y="847.56" width="3.10" height="3.00" fill="#fff"/><rect x="482.20" y="855.30" width="3.10" height="3.00" fill="#fff"/><rect x="482.20" y="863.04" width="3.10" height="3.00" fill="#fff"/><rect x="482.20" y="870.78" width="3.10" height="3.00" fill="#fff"/><rect x="482.20" y="878.52" width="3.10" height="3.00" fill="#fff"/><rect x="482.20" y="886.26" width="3.10" height="3.00" fill="#fff"/><rect x="482.20" y="894.00" width="3.10" height="3.00" fill="#fff"/><rect x="482.20" y="901.74" width="3.10" height="3.00" fill="#fff"/><rect x="482.20" y="909.48" width="3.10" height="3.00" fill="#fff"/><rect x="482.20" y="917.22" width="3.10" height="3.00" fill="#fff"/><rect x="485.90" y="781.74" width="1.90" height="2.80" fill="#fff"/><rect x="485.90" y="789.48" width="1.90" height="2.80" fill="#fff"/><rect x="485.90" y="797.22" width="1.90" height="2.80" fill="#fff"/><rect x="485.90" y="804.96" width="1.90" height="2.80" fill="#fff"/><rect x="485.90" y="812.70" width="1.90" height="2.80" fill="#fff"/><rect x="485.90" y="820.44" width="1.90" height="2.80" fill="#fff"/><rect x="485.90" y="828.18" width="1.90" height="2.80" fill="#fff"/><rect x="485.90" y="835.92" width="1.90" height="2.80" fill="#fff"/><rect x="485.90" y="843.66" width="1.90" height="2.80" fill="#fff"/><rect x="485.90" y="851.40" width="1.90" height="2.80" fill="#fff"/><rect x="485.90" y="859.14" width="1.90" height="2.80" fill="#fff"/><rect x="485.90" y="866.88" width="1.90" height="2.80" fill="#fff"/><rect x="485.90" y="874.62" width="1.90" height="2.80" fill="#fff"/><rect x="485.90" y="882.36" width="1.90" height="2.80" fill="#fff"/><rect x="485.90" y="890.10" width="1.90" height="2.80" fill="#fff"/><rect x="485.90" y="897.84" width="1.90" height="2.80" fill="#fff"/><rect x="485.90" y="905.58" width="1.90" height="2.80" fill="#fff"/><rect x="485.90" y="913.32" width="1.90" height="2.80" fill="#fff"/>
<rect x="501.40" y="821.80" width="8.3" height="98.60" fill="#000"/>
<rect x="512.40" y="865.70" width="8.40" height="54.70" fill="#000"/><rect x="513.70" y="870.78" width="3.10" height="3.00" fill="#fff"/><rect x="513.70" y="878.52" width="3.10" height="3.00" fill="#fff"/><rect x="513.70" y="886.26" width="3.10" height="3.00" fill="#fff"/><rect x="513.70" y="894.00" width="3.10" height="3.00" fill="#fff"/><rect x="513.70" y="901.74" width="3.10" height="3.00" fill="#fff"/><rect x="513.70" y="909.48" width="3.10" height="3.00" fill="#fff"/><rect x="513.70" y="917.22" width="3.10" height="3.00" fill="#fff"/><rect x="517.40" y="866.88" width="1.90" height="2.80" fill="#fff"/><rect x="517.40" y="874.62" width="1.90" height="2.80" fill="#fff"/><rect x="517.40" y="882.36" width="1.90" height="2.80" fill="#fff"/><rect x="517.40" y="890.10" width="1.90" height="2.80" fill="#fff"/><rect x="517.40" y="897.84" width="1.90" height="2.80" fill="#fff"/><rect x="517.40" y="905.58" width="1.90" height="2.80" fill="#fff"/><rect x="517.40" y="913.32" width="1.90" height="2.80" fill="#fff"/>
<rect x="532.50" y="907.50" width="8.3" height="12.90" fill="#000"/>
<rect x="544.00" y="916.60" width="8.40" height="3.80" fill="#000"/><rect x="545.30" y="917.70" width="3.10" height="2.52" fill="#fff"/>
<rect x="564.40" y="916.80" width="8.3" height="3.60" fill="#000"/>
<rect x="575.30" y="916.90" width="8.40" height="3.50" fill="#000"/><rect x="576.60" y="918.00" width="3.10" height="2.22" fill="#fff"/>
<rect x="595.90" y="917.20" width="8.3" height="3.20" fill="#000"/>
<rect x="606.70" y="917.50" width="8.40" height="2.90" fill="#000"/><rect x="608.00" y="918.60" width="3.10" height="1.62" fill="#fff"/>
<rect x="627.10" y="917.20" width="8.3" height="3.20" fill="#000"/>
<rect x="637.70" y="917.30" width="8.40" height="3.10" fill="#000"/><rect x="639.00" y="918.40" width="3.10" height="1.82" fill="#fff"/>
<text x="337.00" y="530.00" font-size="17.5" text-anchor="start" font-weight="bold" >d</text>
<text x="563.80" y="535.70" font-size="17.3" text-anchor="middle" font-weight="bold" >Inhibition of <tspan dy="-10.3" font-size="13.2">3</tspan><tspan dy="10.3">H-Tdr Uptake</tspan></text>
<text x="563.80" y="551.80" font-size="17.3" text-anchor="middle" font-weight="bold" >by PD166326 in Untreated</text>
<text x="563.80" y="567.90" font-size="17.3" text-anchor="middle" font-weight="bold" >Cells &amp; Cells Surviving 7</text>
<text x="563.80" y="584.00" font-size="17.3" text-anchor="middle" font-weight="bold" >Days @ 50 nM from "C"</text>
<text x="0" y="0" font-size="12" text-anchor="middle" transform="translate(346.4 737.6) rotate(-90)">CPM</text>
<text x="526.30" y="961.30" font-size="13.6" text-anchor="middle" >Concentration PD166326&#160;&#160;(nM)</text>
<rect x="456.5" y="602.2" width="119.3" height="117.9" fill="none" stroke="#222" stroke-width="1.2"/>
<rect x="465.4" y="621.4" width="15.1" height="20.2" fill="#000"/>
<rect x="465.3" y="680.1" width="15.6" height="20.1" fill="#000"/><rect x="470.05" y="681.10" width="2.95" height="3.00" fill="#fff"/><rect x="477.55" y="681.10" width="2.55" height="3.00" fill="#fff"/><rect x="466.30" y="685.00" width="2.95" height="3.00" fill="#fff"/><rect x="473.80" y="685.00" width="2.95" height="3.00" fill="#fff"/><rect x="470.05" y="688.90" width="2.95" height="3.00" fill="#fff"/><rect x="477.55" y="688.90" width="2.55" height="3.00" fill="#fff"/><rect x="466.30" y="692.80" width="2.95" height="3.00" fill="#fff"/><rect x="473.80" y="692.80" width="2.95" height="3.00" fill="#fff"/><rect x="470.05" y="696.70" width="2.95" height="2.60" fill="#fff"/><rect x="477.55" y="696.70" width="2.55" height="2.60" fill="#fff"/>
<text x="490.60" y="628.80" font-size="11.4" text-anchor="start" font-weight="bold" >Untreated</text>
<text x="490.60" y="642.00" font-size="11.4" text-anchor="start" font-weight="bold" >R10 NEG</text>
<text x="490.60" y="687.20" font-size="11.4" text-anchor="start" font-weight="bold" >"Pretreated"</text>
<text x="490.60" y="700.00" font-size="11.4" text-anchor="start" font-weight="bold" >R10 NEG</text>
<text x="592.00" y="626.60" font-size="11.4" text-anchor="start" font-weight="bold" >IC</text><text x="603.30" y="634.20" font-size="10.2" text-anchor="start" font-weight="bold" >50</text><text x="618.30" y="626.60" font-size="11.4" text-anchor="start" font-weight="bold" >=</text><text x="632.10" y="626.60" font-size="11.4" text-anchor="start" font-weight="bold" >~</text><text x="645.90" y="626.60" font-size="11.4" text-anchor="start" font-weight="bold" >0.5 nM</text>
<text x="592.00" y="647.60" font-size="11.4" text-anchor="start" font-weight="bold" >IC</text><text x="603.30" y="655.20" font-size="10.2" text-anchor="start" font-weight="bold" >99</text><text x="618.30" y="647.60" font-size="11.4" text-anchor="start" font-weight="bold" >=</text><text x="632.10" y="647.60" font-size="11.4" text-anchor="start" font-weight="bold" >~</text><text x="645.90" y="647.60" font-size="11.4" text-anchor="start" font-weight="bold" >5.0 nM</text>
<text x="592.00" y="690.50" font-size="11.4" text-anchor="start" font-weight="bold" >IC</text><text x="603.30" y="698.10" font-size="10.2" text-anchor="start" font-weight="bold" >50</text><text x="622.20" y="690.50" font-size="11.4" text-anchor="start" font-weight="bold" >=</text><text x="636.00" y="690.50" font-size="11.4" text-anchor="start" font-weight="bold" >~</text><text x="649.00" y="690.50" font-size="11.4" text-anchor="start" font-weight="bold" >0.5 nM</text>
<text x="592.00" y="711.20" font-size="11.4" text-anchor="start" font-weight="bold" >IC</text><text x="603.30" y="718.80" font-size="10.2" text-anchor="start" font-weight="bold" >99</text><text x="622.20" y="711.20" font-size="11.4" text-anchor="start" font-weight="bold" >=</text><text x="636.00" y="711.20" font-size="11.4" text-anchor="start" font-weight="bold" >~</text><text x="649.00" y="711.20" font-size="11.4" text-anchor="start" font-weight="bold" >2.5 nM</text>
</svg>
</body></html>
